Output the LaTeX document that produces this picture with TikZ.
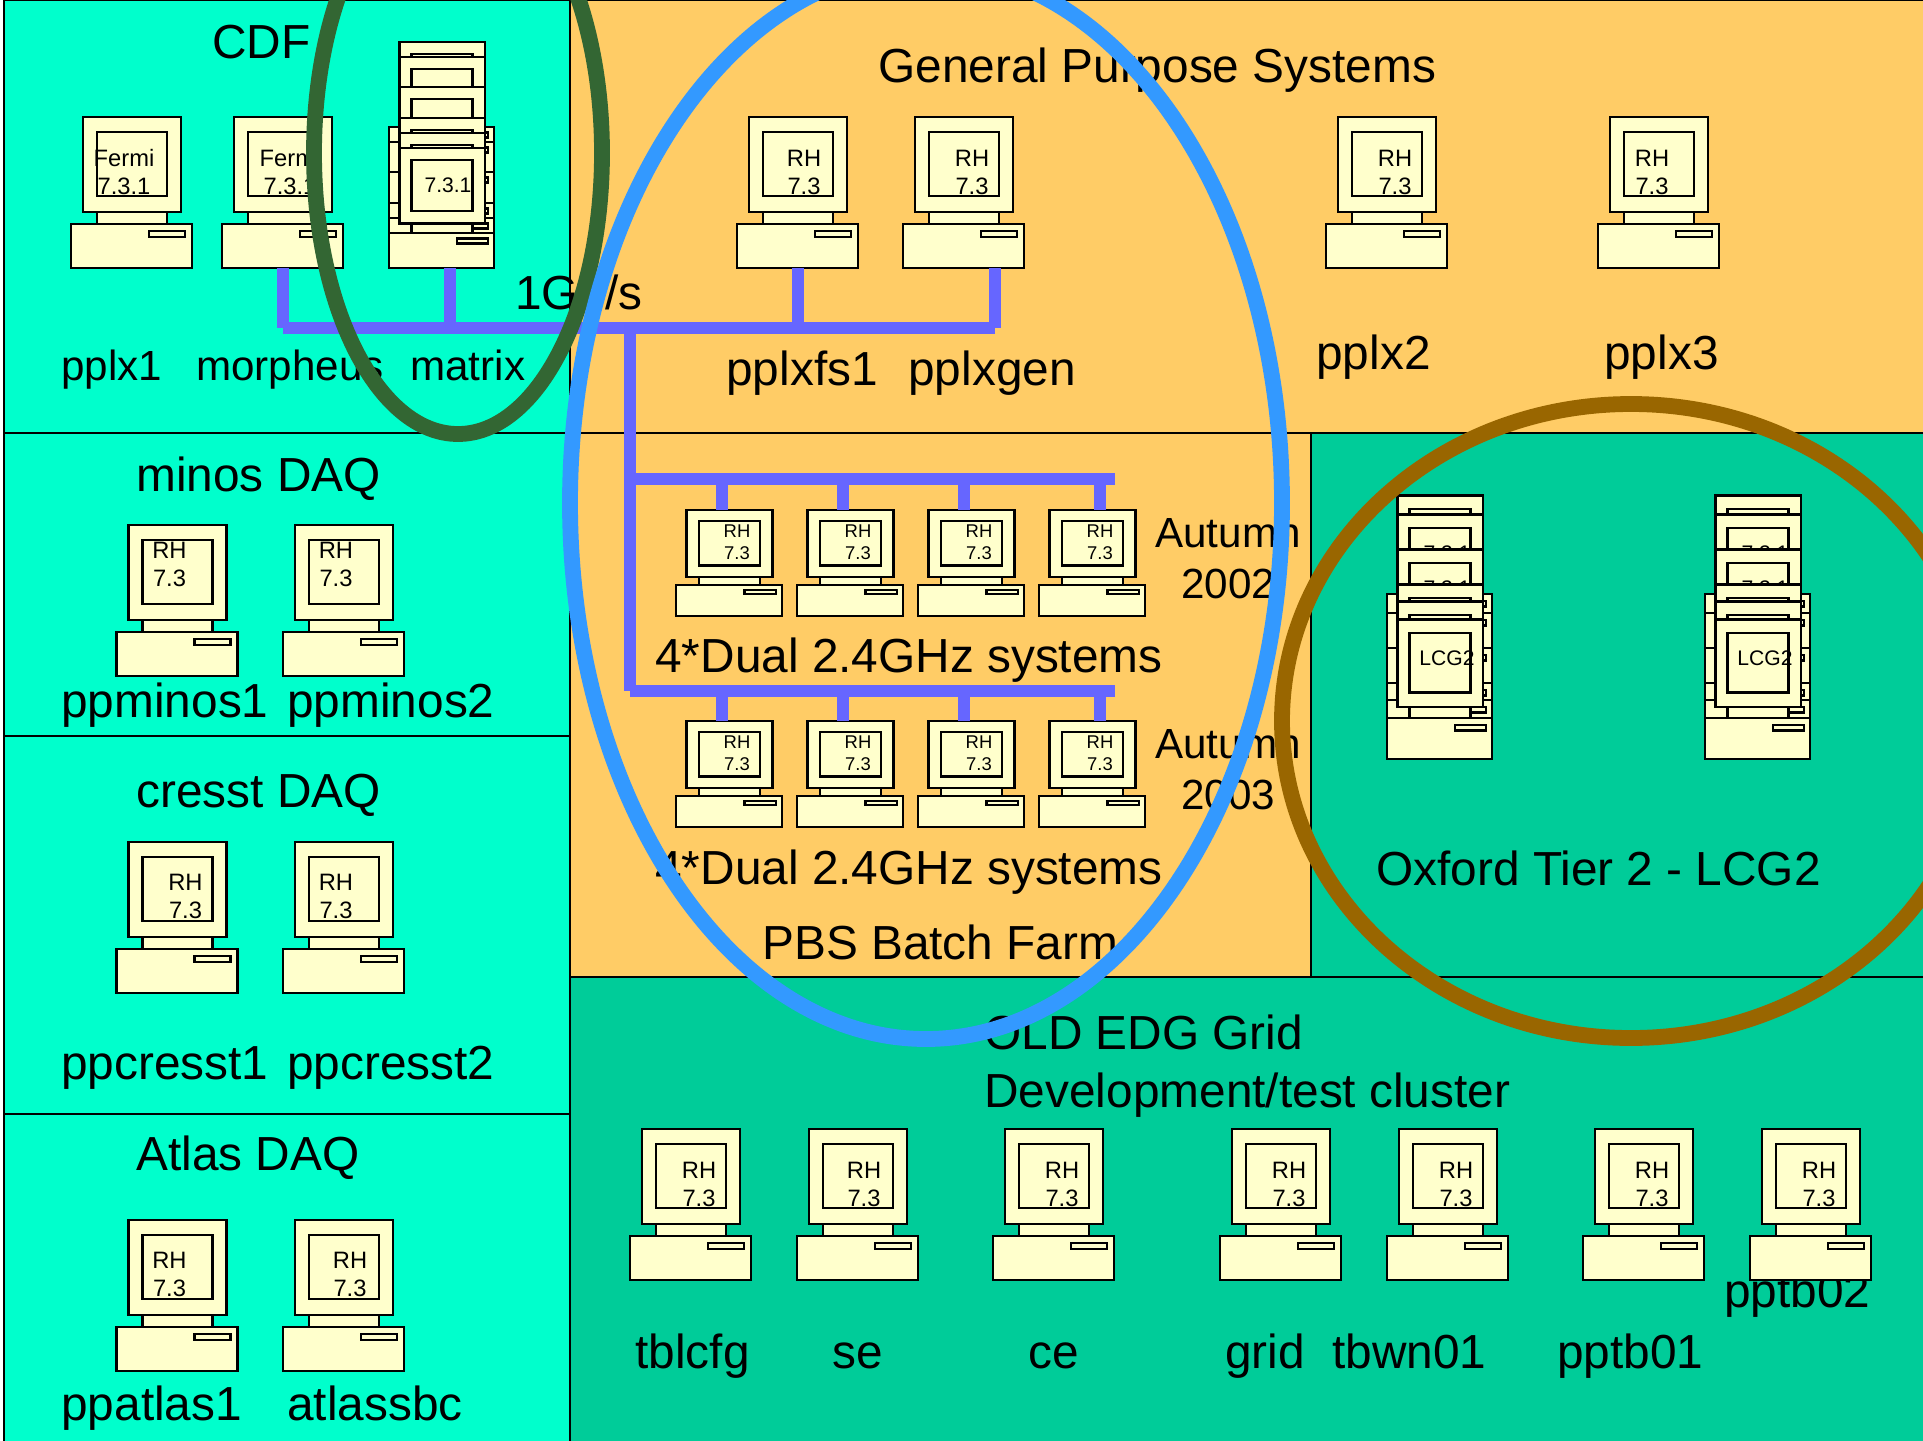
\documentclass[tikz,border=0pt]{standalone}
\usepackage{fontspec}
\usepackage{xcolor}
\setmainfont{Liberation Sans}
\definecolor{cdfcyan}{HTML}{00FFCC}
\definecolor{gridgreen}{HTML}{00CC99}
\definecolor{sysorange}{HTML}{FFCC66}
\definecolor{pccream}{HTML}{FFFFCC}
\definecolor{netblue}{HTML}{6666FF}
\definecolor{ringgreen}{HTML}{336633}
\definecolor{ringblue}{HTML}{3399FF}
\definecolor{ringbrown}{HTML}{996600}
\usetikzlibrary{positioning}

\tikzset{
  pcpart/.style={draw=black, fill=pccream, line width=1.35pt},
  zone/.style={draw=black, line width=1.6pt},
  net/.style={draw=netblue, line width=6.8pt},
  ring/.style={line width=9pt},
  biglabel/.style={anchor=base west, inner sep=0pt, font=\fontsize{27.2}{27}\selectfont},
  midlabel/.style={anchor=base west, inner sep=0pt, font=\fontsize{24}{24}\selectfont},
  screentext/.style={align=center, inner sep=0pt, font=\fontsize{13.5}{15.9}\selectfont},
  racktext/.style={align=center, inner sep=0pt, font=\fontsize{10.5}{12.5}\selectfont},
  stacktext/.style={inner sep=0pt, font=\fontsize{12}{12}\selectfont},
  pics/pc/.style={code={
    \draw[pcpart] (0,0) rectangle (121,-44);
    \draw[pcpart] (26,-44) rectangle (96,-56);
    \draw[pcpart] (12,-56) rectangle (110,-151);
    \draw[pcpart] (26,-72) rectangle (96,-136);
    \draw[pcpart] (78,-31) rectangle (114,-37);
    \coordinate (-bot) at (61,0);
  }}
}

\begin{document}
\begin{tikzpicture}[x=0.02cm, y=-0.02cm]
  \useasboundingbox (0,0) rectangle (1923,1440);

  % Zones
  \fill[white] (0,0) rectangle (1923,1440);
  \draw[zone, fill=cdfcyan] (4,0) rectangle (570,433);
  \draw[zone, fill=cdfcyan] (4,433) rectangle (570,736);
  \draw[zone, fill=cdfcyan] (4,736) rectangle (570,1114);
  \draw[zone, fill=cdfcyan] (4,1114) rectangle (570,1450);
  \draw[zone, fill=sysorange] (570,0) rectangle (1935,433);
  \draw[zone, fill=gridgreen] (1311,433) rectangle (1935,977);
  \draw[zone, fill=gridgreen] (570,977) rectangle (1935,1450);
  \draw[zone, fill=sysorange] (570,433) rectangle (1311,977);

  % Labels
  \foreach \name/\x/\y/\txt in {cdf/212/58/CDF, general/878/82/General Purpose Systems,
      gbit/515/309/{1Gb/s}, fslabel/726/385/pplxfs1, genlabel/908/385/pplxgen,
      pplxb/1316/369/pplx2, pplxc/1604/369/pplx3, minos/136/491/minos DAQ,
      duala/655/672/4*Dual 2.4GHz systems,
      minosa/61/717/ppminos1, minosb/287/717/ppminos2,
      dualb/655/884/4*Dual 2.4GHz systems,
      pbs/762/959/PBS Batch Farm, oxford/1376/885/Oxford Tier 2 - LCG2,
      cresst/136/807/cresst DAQ, cressta/61/1079/ppcresst1, cresstb/287/1079/ppcresst2,
      atlas/136/1170/Atlas DAQ, atlasa/61/1420/ppatlas1, atlasb/287/1420/atlassbc,
      edg/984/1049/OLD EDG Grid, devel/984/1107/{Development/test cluster},
      tbl/635/1368/tblcfg, selabel/832/1368/se, celabel/1028/1368/ce, gridlabel/1225/1368/grid,
      tbwn/1332/1368/tbwn01, tba/1557/1368/pptb01, tbb/1724/1307/pptb02} {
    \node[biglabel] (\name) at (\x,\y) {\txt};
  }
  \foreach \name/\x/\y/\txt in {pplxa/61/380/pplx1, morphlabel/196/380/morpheus, matrixlabel/410/380/matrix,
      autumna/1155/547/Autumn, yeara/1181/598/2002, autumnb/1155/758/Autumn, yearb/1181/809/2003} {
    \node[midlabel] (\name) at (\x,\y) {\txt};
  }

  % Desktop machines
  \foreach \name/\x/\y/\dx/\dy/\txt in {pplxfs/737/268/67/-96/RH\\7.3, pplxgen/903/268/69/-96/RH\\7.3,
      pplxb/1326/268/69/-96/RH\\7.3, pplxc/1598/268/54/-96/RH\\7.3,
      ppminosa/116.5/676/53/-112/RH\\7.3, ppminosb/283/676/53/-112/RH\\7.3,
      ppcressta/116.5/993/69/-97/RH\\7.3, ppcresstb/283/993/53/-97/RH\\7.3,
      ppatlasa/116.5/1371/53/-97/RH\\7.3, atlassbc/283/1371/67/-97/RH\\7.3,
      tblcfg/630/1280/69/-96/RH\\7.3, sebox/797/1280/67/-96/RH\\7.3,
      cebox/993/1280/69/-96/RH\\7.3, gridbox/1220/1280/69/-96/RH\\7.3,
      tbwnbox/1387/1280/69/-96/RH\\7.3, pptba/1583/1280/69/-96/RH\\7.3,
      pptbb/1750/1280/69/-96/RH\\7.3,
      pplxa/71/268/53/-96/Fermi\\7.3.1, morpheus/222/268/68/-96/Fermi\\7.3.1} {
    \pic (\name) at (\x,\y) {pc};
    \node[screentext] (\name-os) at (\x+\dx,\y+\dy) {\txt};
  }

  % Stacked machines
  \foreach \dy in {106,91,61,30,15,0} {
    \pic[xscale=0.87, yscale=0.796] (matrix\dy) at (389,268-\dy) {pc};
  }
  \node[stacktext] (matrix-os) at (448,185) {7.3.1};
  \foreach \x/\name in {1387/lcga,1705/lcgb} {
    \foreach \dy/\txt in {124/,105/7.3.1,70/7.3.1,35/,18/,0/LCG2} {
      \pic[xscale=0.87, yscale=0.925] (\name\dy) at (\x,759-\dy) {pc};
      \ifx\txt\empty\else
        \node[stacktext] (\name\dy-os) at (\x+60,658-\dy) {\txt};
      \fi
    }
  }

  % Farm racks
  \foreach \name/\x/\y/\plug in {racka/676/616/722, rackb/797/616/843, rackc/918/616/964, rackd/1039/616/1100,
      racke/676/827/722, rackf/797/827/843, rackg/918/827/964, rackh/1039/827/1100} {
    \pic[xscale=0.877, yscale=0.70] (\name) at (\x,\y) {pc};
    \node[racktext] (\name-os) at (\x+61,\y-74) {RH\\7.3};
    \coordinate (\name-plug) at (\plug,\y-106);
  }

  % Network
  \coordinate (buscdf) at (283,328);
  \coordinate (bustrunk) at (630,328);
  \coordinate (busgen) at (995,328);
  \coordinate (matrixplug) at (450,268);
  \coordinate (genplug) at (995,268);
  \coordinate (rackahead) at (630,479);
  \coordinate (rackatail) at (1115,479);
  \coordinate (rackbhead) at (630,691);
  \coordinate (rackbtail) at (1115,691);
  \draw[net] (morpheus-bot) -- (buscdf);
  \draw[net] (buscdf) -- (busgen);
  \draw[net] (matrixplug) -- (matrixplug |- buscdf);
  \draw[net] (pplxfs-bot) -- (pplxfs-bot |- buscdf);
  \draw[net] (genplug) -- (busgen);
  \draw[net] (bustrunk) -- (rackbhead);
  \draw[net] (rackahead) -- (rackatail);
  \draw[net] (rackbhead) -- (rackbtail);
  \foreach \name in {racka,rackb,rackc,rackd} {
    \draw[net] (\name-plug) -- (\name-plug |- rackahead);
  }
  \foreach \name in {racke,rackf,rackg,rackh} {
    \draw[net] (\name-plug) -- (\name-plug |- rackbhead);
  }

  % Rings
  \draw[ring, ringgreen] (458,153) ellipse (144 and 281);
  \draw[ring, ringblue] (926,503) ellipse (356 and 536);
  \draw[ring, ringbrown] (1631,721) ellipse (349 and 317);
\end{tikzpicture}
\end{document}
